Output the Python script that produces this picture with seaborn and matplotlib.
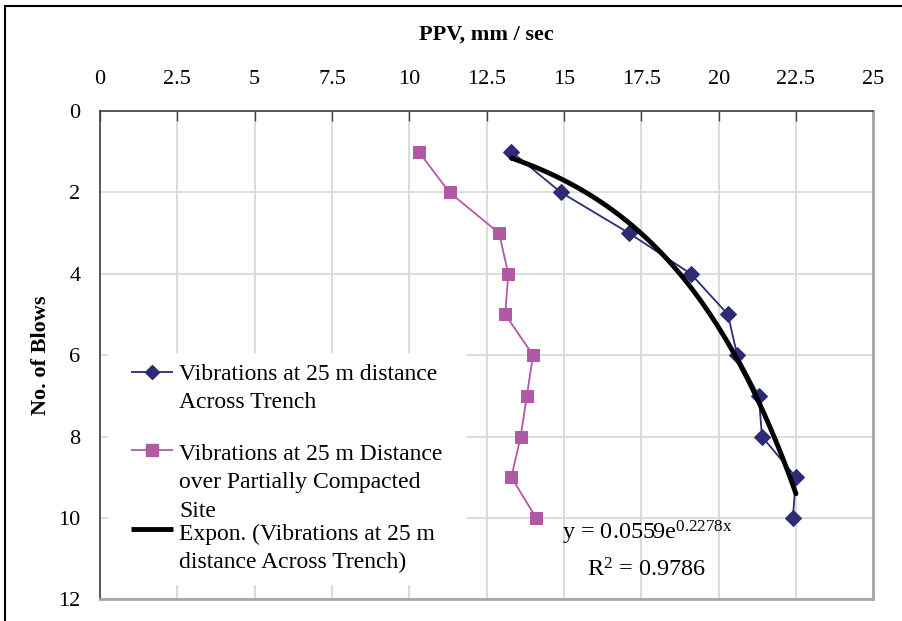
import numpy as np
import pandas as pd
import matplotlib.pyplot as plt
import seaborn as sns
from matplotlib.patches import Rectangle

# values
blows = [1, 2, 3, 4, 5, 6, 7, 8, 9, 10]
ppv_trench = [13.3, 14.9, 17.1, 19.1, 20.3, 20.6, 21.3, 21.4, 22.5, 22.4]
ppv_compacted = [10.3, 11.3, 12.9, 13.2, 13.1, 14.0, 13.8, 13.6, 13.3, 14.1]
fit_a, fit_b, fit_r2 = 0.0559, 0.2278, 0.9786

x_ticks = [0, 2.5, 5, 7.5, 10, 12.5, 15, 17.5, 20, 22.5, 25]
y_ticks = [0, 2, 4, 6, 8, 10, 12]

navy = "#2e2b76"
pink = "#b05aa6"

sns.set_style("white")
plt.rcParams["font.family"] = ["Liberation Serif", "DejaVu Serif"]
plt.rcParams["mathtext.fontset"] = "custom"
plt.rcParams["mathtext.rm"] = "Liberation Serif"
for k in ["text.color", "axes.labelcolor", "xtick.labelcolor", "ytick.labelcolor"]:
    plt.rcParams[k] = "black"

df = pd.DataFrame({"blows": blows, "trench": ppv_trench, "compacted": ppv_compacted})
fx = np.linspace(min(ppv_trench), max(ppv_trench), 80)
fit = pd.DataFrame({"x": fx, "y": fit_a * np.exp(fit_b * fx)})

fig = plt.figure(figsize=(9.03, 6.21), dpi=100)
ax = fig.add_axes([100 / 903, 1 - 599.3 / 621, 773.3 / 903, 488.3 / 621])

sns.lineplot(data=df, x="trench", y="blows", sort=False, estimator=None, ax=ax,
             color=navy, lw=1.3, marker="D", markersize=8, markeredgecolor=navy, zorder=3)
sns.lineplot(data=df, x="compacted", y="blows", sort=False, estimator=None, ax=ax,
             color=pink, lw=1.3, marker="s", markersize=9, markeredgecolor=pink, zorder=3)
sns.lineplot(data=fit, x="x", y="y", sort=False, estimator=None, ax=ax,
             color="black", lw=3.5, zorder=4)

ax.set_xlim(0, 25)
ax.set_ylim(12, 0)
ax.set_xticks(x_ticks)
ax.set_xticklabels([f"{t:g}" for t in x_ticks])
ax.set_yticks(y_ticks)
ax.xaxis.tick_top()
ax.xaxis.set_label_position("top")
ax.tick_params(axis="x", direction="in", length=7, width=1, color="#404040",
               labelsize=16, pad=16, labelcolor="black")
ax.tick_params(axis="y", direction="in", length=6, width=1, color="#404040",
               labelsize=16, pad=14, labelcolor="black")
ax.grid(True, color="#d9d9d9", lw=1.3)
ax.set_axisbelow(True)
for s in ["top", "left"]:
    ax.spines[s].set_color("#404040")
    ax.spines[s].set_linewidth(1.2)
for s in ["right", "bottom"]:
    ax.spines[s].set_color("#a6a6a6")
    ax.spines[s].set_linewidth(2)

ax.set_xlabel("PPV, mm / sec", fontsize=16, fontweight="bold", labelpad=22, color="black")
ax.set_ylabel("No. of Blows", fontsize=16, fontweight="bold", labelpad=5, color="black")

# legend box drawn by hand so the keys sit on the first text line
ax.add_patch(Rectangle((0.25, 5.95), 11.6, 5.7, facecolor="white", edgecolor="none", zorder=1.5))
keys = [(6.41, navy, "D", 7, 1.3), (8.33, pink, "s", 9, 1.3), (10.27, "black", None, 0, 3.5)]
for ky, c, m, ms, lw in keys:
    ax.plot([0.99, 2.35], [ky, ky], color=c, lw=lw, zorder=3, solid_capstyle="butt")
    if m:
        ax.plot([1.67], [ky], marker=m, ms=ms, color=c, zorder=3)
legend_lines = [
    (6.60, "Vibrations at 25 m distance"), (7.29, "Across Trench"),
    (8.57, "Vibrations at 25 m Distance"), (9.27, "over Partially Compacted"), (9.97, "Site"),
    (10.54, "Expon. (Vibrations at 25 m"), (11.23, "distance Across Trench)"),
]
for ty, t in legend_lines:
    ax.text(2.55, ty, t, fontsize=17, va="baseline", ha="left", zorder=3, color="black")

ax.text(17.68, 10.54, r"y = 0.0559e$\mathregular{^{0.2278x}}$", fontsize=17.5,
        va="baseline", ha="center", zorder=5, color="black")
ax.text(17.68, 11.44, r"R$\mathregular{^2}$ = " + f"{fit_r2:.4f}", fontsize=17.5,
        va="baseline", ha="center", zorder=5, color="black")

fig.add_artist(Rectangle((5 / 903, -0.5), 2, 0.5 + 1 - 6 / 621, transform=fig.transFigure,
                         fill=False, edgecolor="black", lw=1.5))

fig.savefig("out.png", dpi=100)
